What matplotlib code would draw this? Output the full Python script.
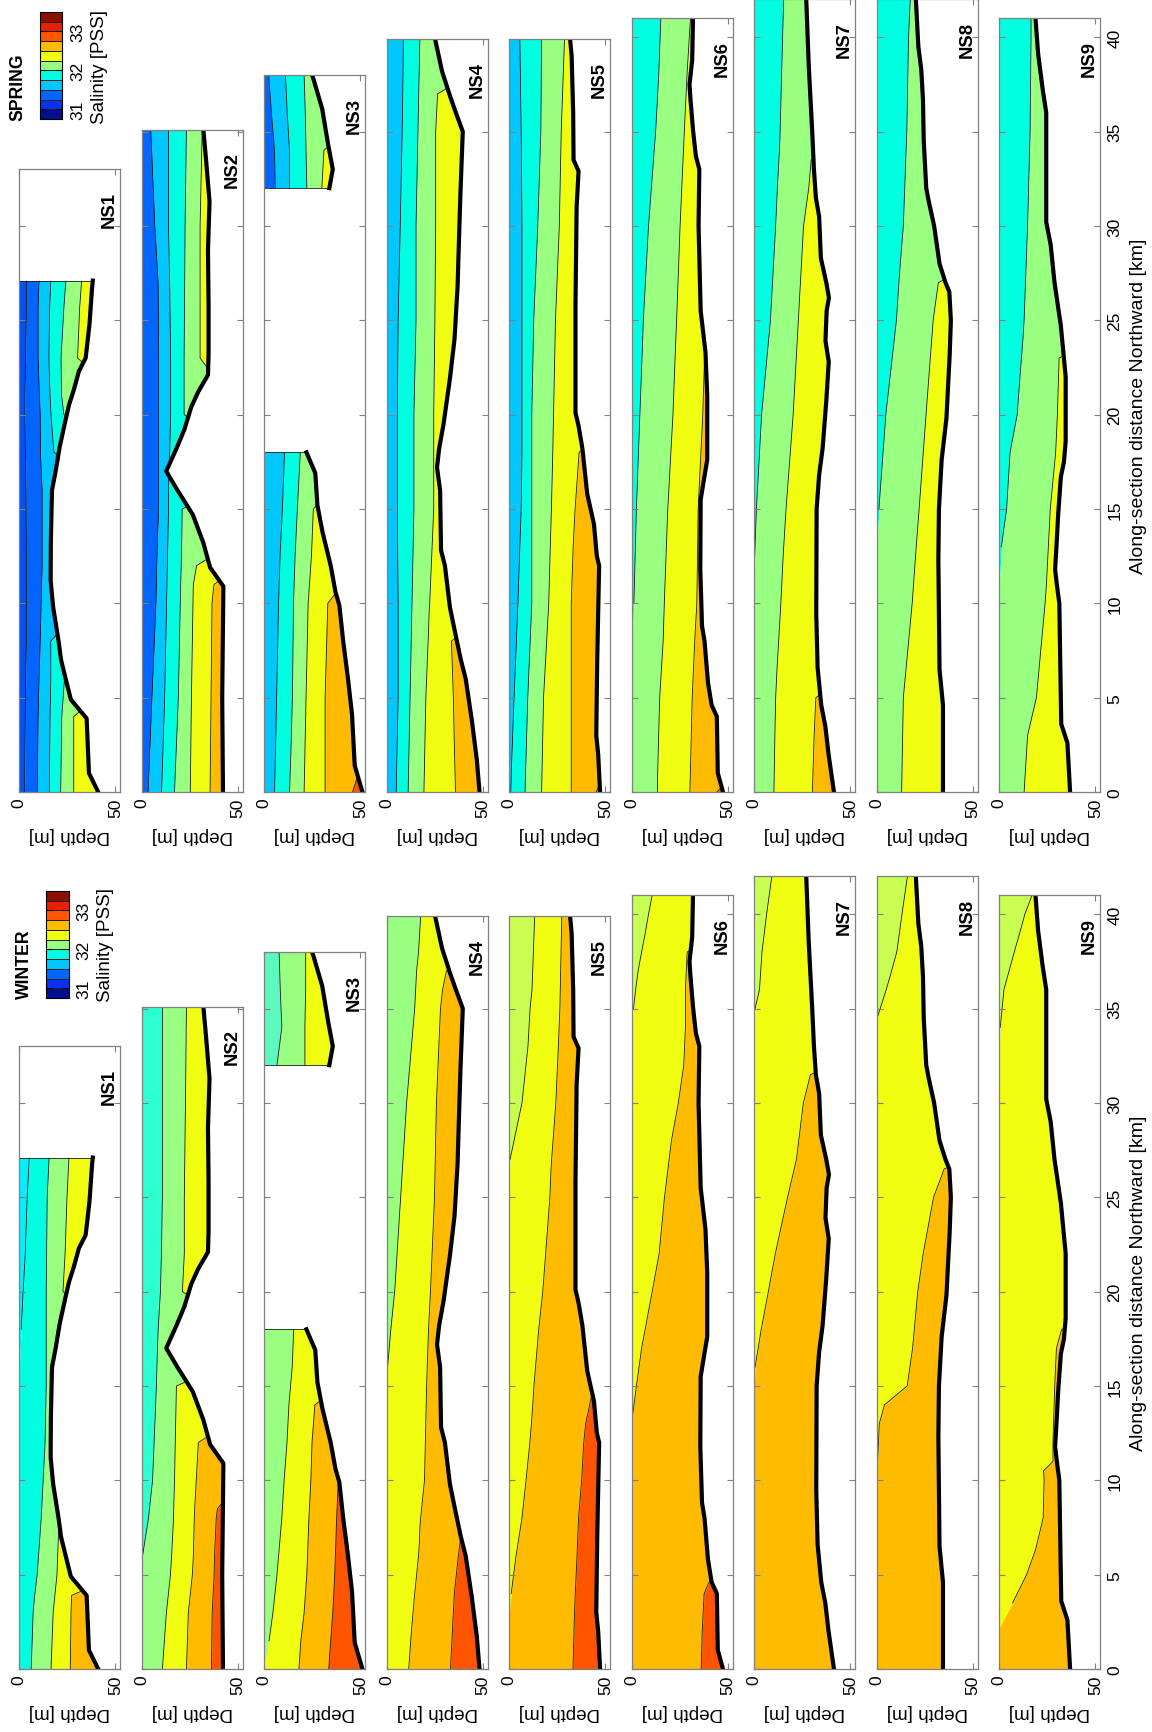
import numpy as np
import matplotlib
matplotlib.use('Agg')
import matplotlib.pyplot as plt
from matplotlib.colors import ListedColormap
from matplotlib.path import Path
from matplotlib.patches import PathPatch

plt.rcParams['font.family'] = ['Liberation Sans', 'DejaVu Sans']

# salinity classes of the colour bar (PSS)
sal_levels = [30.75, 31.0, 31.25, 31.5, 31.75, 32.0, 32.25, 32.5, 32.75, 33.0, 33.25, 33.5]
sal_ticks = [31, 32, 33]

sections = ['NS1', 'NS2', 'NS3', 'NS4', 'NS5', 'NS6', 'NS7', 'NS8', 'NS9']
# distance shown on each section axis (km)
section_top = [33, 35.1, 38, 39.9, 39.9, 41, 42, 42, 41]

# bottom depth (m) along each section
ns1_bot_dist = [0, 1, 3.9, 4.9, 6, 7, 8, 9.8, 11.2, 13.3, 16, 17, 18.3, 19.6, 20.5, 21.3, 22.3, 23, 24.8, 26.7, 27.1]
ns1_bot_depth = [41, 36.2, 35, 26.8, 24.1, 21.7, 20.4, 17.6, 16.3, 16.4, 17, 18.9, 21, 23.8, 25.8, 28.3, 31, 34.5, 36.5, 37.8, 38.2]
ns2_bot_dist = [0, 5, 10.9, 11.9, 13.2, 14.7, 16, 17, 18.2, 19.2, 20.4, 21.2, 22.1, 23.2, 25.9, 28.7, 31.3, 33.5, 35.1]
ns2_bot_depth = [42.2, 41.8, 42.4, 35.5, 32, 26.5, 18.5, 12.7, 18, 22.1, 25.7, 29.3, 34.4, 34.7, 34.7, 34.4, 35.2, 33.4, 32]
ns3_bot_dist = [0, 1.4, 4.1, 6, 8, 9.9, 10.6, 12, 13.8, 15.2, 16.9, 18, np.nan, 32, 33, 34.3, 36.2, 37.8, 38]
ns3_bot_depth = [51, 47, 45.6, 43.5, 41, 39, 37, 34.5, 30.2, 27.6, 26.5, 21.9, np.nan, 33.8, 35.6, 33.2, 30.1, 25.5, 24.8]
ns4_bot_dist = [0, 1.7, 3.8, 6, 7, 8.5, 9.8, 12, 12.8, 16, 17.2, 18.2, 19.5, 20.6, 21.9, 24, 26.8, 29.2, 31.8, 35, 36, 36.9, 38.2, 39.9]
ns4_bot_depth = [48.2, 46.8, 44.2, 41, 38.5, 35.4, 32.8, 30.2, 28.2, 27.7, 26.1, 27.2, 29.5, 31, 32.8, 35.2, 36.8, 37.5, 38.3, 39.5, 35.9, 32.8, 28.7, 25.1]
ns5_bot_dist = [0, 2, 3, 7, 12, 12.5, 14.2, 15.8, 18.2, 19.4, 20.1, 25.8, 31, 32.9, 33.5, 36, 39, 39.9]
ns5_bot_depth = [47.2, 46.2, 45.2, 45.7, 46.7, 45.5, 44, 40.5, 38, 36, 34.4, 34.4, 35, 36, 33.4, 33.2, 32.4, 31.6]
ns6_bot_dist = [0, 1, 4, 4.6, 5.8, 8, 8.8, 11.8, 15.5, 16.5, 17.6, 21, 23.3, 25.5, 30, 33, 33.7, 35, 36.7, 37.5, 38.8, 41]
ns6_bot_depth = [47.4, 44.7, 44.2, 41.5, 39.6, 37.8, 36.5, 35.6, 35.8, 37.4, 39.2, 39.2, 38.3, 35.8, 34.7, 35.1, 33.3, 31.9, 30.5, 30, 31.4, 31.8]
ns7_bot_dist = [0, 2, 3.5, 4.6, 6.6, 9.5, 12.3, 15, 16.8, 18.2, 20.7, 22.8, 23.9, 25.5, 26.2, 27, 28.3, 30.5, 31.5, 33, 35, 38.5, 42]
ns7_bot_depth = [41.4, 38.6, 36.9, 34.8, 32.9, 32.2, 32.3, 32.4, 33.7, 35.5, 37.4, 38.7, 37, 37.6, 38.8, 37.4, 34.6, 33.7, 32, 31, 30.1, 28.3, 27]
ns8_bot_dist = [0, 4.6, 6.5, 12.3, 15, 17.6, 19.8, 23.2, 25, 26.5, 27, 28, 30, 31.3, 32, 34.5, 36.7, 38.3, 39.5, 42]
ns8_bot_depth = [34.4, 34.4, 32.6, 32, 32.3, 33.7, 36.2, 37.9, 38.5, 37.7, 35.7, 32.6, 29.8, 27, 25.7, 24.4, 24, 23.1, 21.6, 20.3]
ns9_bot_dist = [0, 2.6, 3.6, 10, 11, 11.8, 12.8, 14.7, 16.7, 17.5, 18.6, 22, 24.7, 27, 29, 30.2, 36, 37.2, 39.1, 41]
ns9_bot_depth = [36.8, 35.4, 32.2, 31.2, 29.9, 29, 29.6, 30.6, 32, 33.6, 34.5, 34.5, 32, 28.7, 26.7, 24.4, 24.4, 22.6, 20.2, 18.8]

# SPRING: depth (m) of each isohaline along the section, shallow to deep
sp1_dist = [0, 4, 6, 8, 12, 16, 18, 20, 21, 23, 25.7, 27.1]
sp1_iso = [[2.7, 3.1, 3.3, 3.7, 3.7, 3.5, 3.2, 2.9, 2.9, 3.3, 3.7, 3.7],
           [9.4, 9.8, 10.3, 10.9, 11.9, 11.9, 11, 10.9, 10.5, 9.8, 9.8, 10.3],
           [15.6, 16, 16.4, 16.4, 52, 52, 18, 16.5, 16, 15.4, 15.8, 16.4],
           [21.5, 22.1, 23.5, 52, 52, 52, 52, 23.2, 22, 21.7, 23.2, 24.2],
           [28.3, 28.3, 52, 52, 52, 52, 52, 52, 52, 30.3, 31.4, 32.4]]
sp2_dist = [0, 5, 10, 11, 12, 13.5, 15, 16.5, 18, 20, 23, 27, 30, 35.1]
sp2_iso = [[3.3, 5.3, 7.4, 7.6, 7.8, 8.2, 8.8, 8.8, 8.8, 8.8, 8.8, 8.5, 6.8, 4.7],
           [10.3, 11.9, 12.9, 13.1, 13.3, 13.6, 13.9, 14, 14.5, 15, 15, 14.5, 13.9, 13.9],
           [17, 19, 20, 20.2, 20.5, 20.8, 21, 52, 52, 22, 22, 22.3, 22.5, 23.2],
           [25.2, 25.8, 26.6, 26.8, 28.5, 52, 52, 52, 52, 52, 30.3, 30.3, 30.3, 31.4],
           [35.5, 36, 36.5, 37.5, 52, 52, 52, 52, 52, 52, 52, 52, 52, 52]]
sp3_dist = [0, 2, 5, 10, 12.5, 15, 18, np.nan, 32, 34, 36, 38]
sp3_iso = [[0, 0, 0, 0, 0, 0, 0, np.nan, 5.7, 5.3, 3.7, 2.3],
           [5.3, 5.8, 6.4, 7.4, 8.2, 9.4, 10.5, np.nan, 13.1, 13.1, 11.9, 11],
           [13.1, 13.8, 14.6, 15.2, 16, 17.2, 18.7, np.nan, 22.1, 21.7, 21.3, 20.7],
           [20.7, 21.1, 21.7, 22.8, 24.5, 25.5, 52, np.nan, 29.9, 31, 52, 52],
           [31.6, 31.6, 31.6, 33, 52, 52, 52, np.nan, 52, 52, 52, 52],
           [45.9, 52, 52, 52, 52, 52, 52, np.nan, 52, 52, 52, 52]]
sp4_dist = [0, 3, 5, 8, 9.5, 10, 15, 20, 25, 30, 35, 37, 38.5, 39.9]
sp4_iso = [[4.9, 5.5, 5.9, 5.9, 5.9, 5.9, 5.5, 5.5, 5.9, 7.0, 8.0, 8.3, 8.5, 8.6],
           [11.1, 11.7, 12.1, 12.7, 13, 13.1, 14.1, 14.1, 15.2, 15.2, 16.2, 16.6, 16.9, 17.2],
           [19.3, 19.9, 20.3, 21.5, 22, 22.3, 24.4, 24.4, 25, 25.4, 25.4, 26.4, 52, 52],
           [35.7, 35, 34.6, 33.6, 52, 52, 52, 52, 52, 52, 52, 52, 52, 52]]
sp5_dist = [0, 1.5, 5, 10, 13, 15, 18, 19.5, 20, 25, 30, 35, 39.9]
sp5_iso = [[0.8, 1.2, 2.5, 4.5, 5.5, 6.2, 6.6, 6.6, 6.6, 6.6, 6.6, 6.2, 5.5],
           [8.2, 8.6, 9.6, 11.7, 11.7, 11.7, 11.7, 11.7, 11.7, 12.7, 14.8, 16.4, 16.8],
           [16.8, 17.1, 17.8, 20.5, 21.3, 21.9, 22.6, 22.9, 23, 24, 26, 27, 28.7],
           [32.2, 32.2, 32.2, 32.2, 33.2, 34.2, 36.3, 52, 52, 52, 52, 52, 52],
           [45.1, 52, 52, 52, 52, 52, 52, 52, 52, 52, 52, 52, 52]]
sp6_dist = [0, 0.8, 5, 8, 10, 15, 20, 23, 23.5, 25, 30, 35, 38, 41]
sp6_iso = [[0, 0, 0, 0, 1.1, 2.4, 4.2, 5.3, 5.5, 6, 8.7, 12.4, 14, 15.1],
           [13.3, 13.4, 14.5, 16.3, 16.9, 18.7, 21.4, 22.5, 22.7, 23.3, 25.1, 27.3, 28.7, 30.5],
           [30.2, 30.4, 31.4, 32.7, 33.8, 34.5, 36.9, 37.8, 52, 52, 52, 52, 52, 52],
           [44.2, 52, 52, 52, 52, 52, 52, 52, 52, 52, 52, 52, 52, 52]]
sp7_dist = [0, 3, 5, 6.5, 10, 12.5, 15, 20, 25, 30, 32, 33.5, 34.5, 40, 42]
sp7_iso = [[0, 0, 0, 0, 0, 0.2, 1.1, 3.8, 8.4, 11.1, 12, 12.8, 13.3, 14.7, 15.3],
           [10.2, 10.7, 11.1, 11.8, 13.8, 15, 16.5, 20.2, 22.9, 25.6, 28.3, 29.6, 52, 52, 52],
           [30.2, 31.1, 32, 52, 52, 52, 52, 52, 52, 52, 52, 52, 52, 52, 52]]
sp8_dist = [0, 5, 10, 13, 15, 20, 25, 27, 28, 30, 35, 40, 42]
sp8_iso = [[0, 0, 0, 0, 1.1, 4.7, 10.2, 11.5, 12.2, 13.8, 15.6, 16.5, 17.4],
           [12.9, 13.8, 18.4, 20.5, 22, 25.6, 29.3, 32, 52, 52, 52, 52, 52]]
sp9_dist = [0, 3, 5, 7, 10, 11, 13, 15, 18, 20, 23, 24, 25, 30, 35, 40, 41]
sp9_iso = [[0, 0, 0, 0, 0, 0, 1.1, 3.8, 5.6, 9.3, 11.5, 12.3, 12.9, 14.7, 16, 16.5, 16.5],
           [12.9, 14.7, 19.3, 21.1, 23.8, 24.5, 25.5, 26.5, 29.3, 30.2, 31.1, 52, 52, 52, 52, 52, 52]]

# WINTER
wi1_dist = [0, 3, 3.9, 5, 8, 10, 12, 15, 16, 18, 20, 22, 25, 27.1]
wi1_iso = [[0, 0, 0, 0, 0, 0, 0, 0, 0, 1, 2, 3.1, 4.1, 5.2],
           [6.2, 7.2, 8, 9.3, 11.4, 12.4, 13.4, 14, 14, 14, 14, 14.2, 14.5, 15.5],
           [16.5, 17.6, 18.5, 19.6, 20.7, 52, 52, 52, 52, 52, 22.7, 23.8, 24.8, 25.8],
           [26.5, 26.9, 27.2, 52, 52, 52, 52, 52, 52, 52, 52, 52, 52, 52]]
wi2_dist = [0, 3, 5, 6, 8, 8.5, 10, 12, 13.5, 15, 16.5, 18, 20, 22, 25, 30, 35.1]
wi2_iso = [[0, 0, 0, 0.4, 3.5, 4, 5.6, 6.4, 7, 7.6, 8, 8.5, 9.7, 10.2, 10.7, 10.7, 10.7],
           [10.7, 12.8, 14.9, 15.5, 16.5, 16.6, 17, 17.4, 17.7, 18, 52, 52, 21.1, 22.1, 22.1, 22.7, 23.2],
           [23.2, 24.2, 26.3, 26.8, 27.3, 27.5, 28.3, 29.4, 52, 52, 52, 52, 52, 52, 52, 52, 52],
           [36.2, 36.6, 37.6, 37.8, 38.7, 39.3, 52, 52, 52, 52, 52, 52, 52, 52, 52, 52, 52]]
wi3_dist = [0, 1.5, 3, 5, 8, 10, 12, 14, 16, 18, np.nan, 32, 34, 36, 38]
wi3_iso = [[0, 0, 0, 0, 0, 0, 0, 0, 0, 0, np.nan, 6.6, 9.1, 8.3, 7.7],
           [0, 2.5, 4.5, 6.6, 9.1, 10.3, 11.8, 12.8, 14.5, 15.3, np.nan, 21.1, 21.1, 21.5, 21.5],
           [18, 19, 20.7, 22.1, 23.2, 24.2, 24.8, 26.3, 52, 52, np.nan, 52, 52, 52, 52],
           [33.5, 34.5, 35.6, 36.6, 37.6, 38.5, 52, 52, 52, 52, np.nan, 52, 52, 52, 52]]
wi4_dist = [0, 2, 4, 6, 6.8, 7.5, 8, 10, 15, 16, 18, 20, 25, 30, 35, 36, 37, 38, 39.9]
wi4_iso = [[0, 0, 0, 0, 0, 0, 0, 0, 0, 0.4, 2.1, 4.1, 7.2, 10.3, 14.5, 15, 15.5, 16.5, 17.6],
           [11.4, 12.8, 14.5, 16.5, 17, 17.2, 17.6, 19.6, 20.7, 21, 21.7, 22.7, 24.8, 25.8, 27.9, 29, 31, 52, 52],
           [33.1, 34.1, 35.1, 37.2, 38.2, 52, 52, 52, 52, 52, 52, 52, 52, 52, 52, 52, 52, 52, 52]]
wi5_dist = [0, 3, 4, 6, 8, 10, 12, 13, 14, 14.5, 15, 18, 20, 25, 26.5, 27, 30, 33, 35, 36, 39.9]
wi5_iso = [[0, 0, 0, 0, 0, 0, 0, 0, 0, 0, 0, 0, 0, 0, 0, 0.4, 6.6, 9.7, 10.8, 11.8, 13.2],
           [0, 0, 1, 3.5, 6.6, 8.7, 10.7, 11.5, 12.2, 12.5, 12.8, 15.3, 17.4, 21.1, 21.7, 22, 24.2, 25.5, 26.3, 26.5, 27.3],
           [33.1, 33.9, 34.3, 35.2, 36, 37.6, 38.7, 39.7, 41.8, 42.8, 52, 52, 52, 52, 52, 52, 52, 52, 52, 52, 52]]
wi6_dist = [0, 2, 4, 4.7, 5, 13, 13.5, 15, 17, 20, 22, 25, 28, 30, 32, 34, 35, 36, 37, 38, 39, 40, 41]
wi6_iso = [[0, 0, 0, 0, 0, 0, 0, 0, 0, 0, 0, 0, 0, 0, 0, 0, 0.9, 2, 3.3, 5.1, 7, 8.7, 10.6],
           [0, 0, 0, 0, 0, 0, 0.5, 2.4, 5.1, 10.6, 14.2, 17, 20.6, 24.2, 27, 27.9, 27.9, 27.9, 28.3, 28.8, 52, 52, 52],
           [36.1, 36.6, 37.6, 40.6, 52, 52, 52, 52, 52, 52, 52, 52, 52, 52, 52, 52, 52, 52, 52, 52, 52, 52, 52]]
wi7_dist = [0, 15, 16, 18, 20, 22, 25, 27, 30, 31.5, 32.5, 34, 35, 36, 38, 40, 42]
wi7_iso = [[0, 0, 0, 0, 0, 0, 0, 0, 0, 0, 0, 0, 0.4, 2.7, 4, 6.4, 9.1],
           [0, 0, 0.4, 3.6, 7.3, 10.9, 17.3, 21.9, 25.5, 29.2, 52, 52, 52, 52, 52, 52, 52]]
wi8_dist = [0, 10.5, 11, 13, 14, 15, 17, 20, 22, 24, 25, 26, 26.5, 27.2, 30, 34, 34.5, 36, 37, 38, 40, 42]
wi8_iso = [[0, 0, 0, 0, 0, 0, 0, 0, 0, 0, 0, 0, 0, 0, 0, 0, 0.2, 4.9, 7.7, 10.4, 13.1, 15.9],
           [0, 0, 0.4, 1.3, 4, 15.8, 18.6, 21.3, 24.1, 27.7, 29.5, 33.2, 35, 52, 52, 52, 52, 52, 52, 52, 52, 52]]
wi9_dist = [0, 2.2, 3.5, 5, 6.3, 8, 10, 10.5, 11, 12, 15, 17, 18, 18.5, 33, 34, 36, 37, 38, 39, 40, 41]
wi9_iso = [[0, 0, 0, 0, 0, 0, 0, 0, 0, 0, 0, 0, 0, 0, 0, 0.5, 2.4, 5.1, 7.8, 10.6, 13.3, 17],
           [0, 0, 6.9, 14.2, 18.8, 22.8, 23.3, 23, 27.9, 27.9, 28.8, 29.7, 32.4, 52, 52, 52, 52, 52, 52, 52, 52, 52]]

# colours
NAVY, BLUE1, BLUE2, SKY, CYAN = '#00108f', '#0a30f0', '#0066ff', '#00c8ff', '#00ffe0'
GREEN, YELLOW, ORANGE, ORED, RED, DRED = '#99ff80', '#f0fc10', '#ffbb00', '#ff5500', '#e82000', '#8c1000'
BLUE_A, SKY_W, AQUA, AQUA2, YGREEN = '#0050f5', '#00f0ff', '#2cffd0', '#5cf8c0', '#c8ff50'
CBAR = [NAVY, BLUE1, BLUE2, SKY, CYAN, GREEN, YELLOW, ORANGE, ORED, RED, DRED]

spring_colors = [[BLUE_A, BLUE2, SKY, CYAN, GREEN, YELLOW],
                 [BLUE2, SKY, CYAN, GREEN, YELLOW, ORANGE],
                 [BLUE2, SKY, CYAN, GREEN, YELLOW, ORANGE, ORED],
                 [SKY, CYAN, GREEN, YELLOW, ORANGE],
                 [SKY, CYAN, GREEN, YELLOW, ORANGE, ORED],
                 [CYAN, GREEN, YELLOW, ORANGE, ORED],
                 [CYAN, GREEN, YELLOW, ORANGE],
                 [CYAN, GREEN, YELLOW],
                 [CYAN, GREEN, YELLOW]]
winter_colors = [[SKY_W, CYAN, GREEN, YELLOW, ORANGE],
                 [AQUA, GREEN, YELLOW, ORANGE, ORED],
                 [AQUA2, GREEN, YELLOW, ORANGE, ORED],
                 [GREEN, YELLOW, ORANGE, ORED],
                 [YGREEN, YELLOW, ORANGE, ORED],
                 [YGREEN, YELLOW, ORANGE, ORED],
                 [YGREEN, YELLOW, ORANGE],
                 [YGREEN, YELLOW, ORANGE],
                 [YGREEN, YELLOW, ORANGE]]

bottoms = [(ns1_bot_dist, ns1_bot_depth), (ns2_bot_dist, ns2_bot_depth), (ns3_bot_dist, ns3_bot_depth),
           (ns4_bot_dist, ns4_bot_depth), (ns5_bot_dist, ns5_bot_depth), (ns6_bot_dist, ns6_bot_depth),
           (ns7_bot_dist, ns7_bot_depth), (ns8_bot_dist, ns8_bot_depth), (ns9_bot_dist, ns9_bot_depth)]
spring = [(sp1_dist, sp1_iso), (sp2_dist, sp2_iso), (sp3_dist, sp3_iso), (sp4_dist, sp4_iso), (sp5_dist, sp5_iso),
          (sp6_dist, sp6_iso), (sp7_dist, sp7_iso), (sp8_dist, sp8_iso), (sp9_dist, sp9_iso)]
winter = [(wi1_dist, wi1_iso), (wi2_dist, wi2_iso), (wi3_dist, wi3_iso), (wi4_dist, wi4_iso), (wi5_dist, wi5_iso),
          (wi6_dist, wi6_iso), (wi7_dist, wi7_iso), (wi8_dist, wi8_iso), (wi9_dist, wi9_iso)]

W, H = 1152, 1733
DMAX = 52.5
KM_PX = 18.87
SPINE = '#808080'

fig = plt.figure(figsize=(W / 100, H / 100), dpi=100)


def px_axes(left, top, width, height):
    return fig.add_axes([left / W, 1 - (top + height) / H, width / W, height / H])


def water_patch(ax, bd, bz):
    # closed outline of the water column: surface -> bottom line -> surface
    parts = []
    for seg in np.split(np.arange(len(bd)), np.flatnonzero(np.isnan(bd))):
        seg = seg[~np.isnan(bd[seg])]
        verts = [(0, bd[seg[0]])] + list(zip(bz[seg], bd[seg])) + [(0, bd[seg[-1]]), (0, bd[seg[0]])]
        codes = [Path.MOVETO] + [Path.LINETO] * (len(verts) - 2) + [Path.CLOSEPOLY]
        parts.append(Path(verts, codes))
    patch = PathPatch(Path.make_compound_path(*parts), transform=ax.transData,
                      facecolor='none', edgecolor='none')
    ax.add_patch(patch)
    return patch


def draw_panel(ax, dist, iso, colors, bot_dist, bot_depth, top, name, last):
    dist = np.array(dist, float)
    bd = np.array(bot_dist, float)
    bz = np.array(bot_depth, float)
    clip = water_patch(ax, bd, bz)
    bounds = [np.zeros_like(dist)] + [np.array(r, float) for r in iso] + [np.full_like(dist, DMAX)]
    for k, c in enumerate(colors):
        coll = ax.fill_betweenx(dist, bounds[k], bounds[k + 1], color=c, lw=0, zorder=1)
        coll.set_clip_path(clip)
    for r in bounds[1:-1]:
        ln, = ax.plot(np.where(r <= 0.05, np.nan, r), dist, color='#1a1a1a', lw=0.6, zorder=1.5)
        ln.set_clip_path(clip)
    # closing lines where the sampled section stops inside the axis
    for seg in np.split(np.arange(len(bd)), np.flatnonzero(np.isnan(bd))):
        seg = seg[~np.isnan(bd[seg])]
        for j in (seg[0], seg[-1]):
            if 0 < bd[j] < top - 0.3:
                ax.plot([0, bz[j]], [bd[j], bd[j]], color='#1a1a1a', lw=0.6, zorder=2.2)
    ax.plot(bz, bd, color='k', lw=3, zorder=3)

    ax.set_xlim(0, DMAX)
    ax.set_ylim(0, top)
    ax.set_xticks([0, 50])
    ax.set_xticklabels(['0', '50'], rotation=90)
    yt = list(range(0, int(top) + 1, 5))
    ax.set_yticks(yt)
    ax.set_yticklabels([str(v) for v in yt], rotation=90, va='center')
    ax.tick_params(direction='in', length=4, color=SPINE, top=True, right=True, labelsize=12.5)
    ax.tick_params(axis='x', pad=4)
    ax.tick_params(axis='y', left=True, right=True, labelleft=False, labelright=last, pad=5)
    for sp in ax.spines.values():
        sp.set_color(SPINE)
        sp.set_linewidth(0.9)
        sp.set_zorder(4)
    ax.text(46.8, top - 2.1, name, rotation=90, ha='center', va='center',
            fontsize=13.3, fontweight='bold', zorder=5)
    ax.annotate('Depth [m]', xy=(0.5, 0), xycoords='axes fraction', xytext=(0, -43),
                textcoords='offset pixels', rotation=180, ha='center', va='center', fontsize=13.5)
    if last:
        ax.annotate('Along-section distance Northward [km]', xy=(1, 0.5), xycoords='axes fraction',
                    xytext=(38, 0), textcoords='offset pixels', rotation=90,
                    ha='center', va='center', fontsize=14)


def colour_bar(left, top):
    cax = px_axes(left, top, 22.5, 107)
    cax.pcolormesh([0, 1], sal_levels, np.arange(len(sal_levels) - 1)[:, None],
                   cmap=ListedColormap(CBAR), edgecolors='#202020', linewidth=0.4)
    cax.set_xlim(0, 1)
    cax.set_ylim(sal_levels[0], sal_levels[-1])
    cax.set_xticks([])
    cax.set_yticks(sal_ticks)
    cax.set_yticklabels([str(t) for t in sal_ticks], rotation=90, va='center')
    cax.tick_params(axis='y', direction='in', length=4, left=True, right=True,
                    labelleft=False, labelright=True, pad=6, labelsize=12.5)
    cax.annotate('Salinity [PSS]', xy=(1, 0.5), xycoords='axes fraction', xytext=(37, 0),
                 textcoords='offset pixels', rotation=90, ha='center', va='center', fontsize=13.5)


for panels, colours, y0 in [(spring, spring_colors, 793), (winter, winter_colors, 1670)]:
    for i in range(9):
        top = section_top[i]
        h = KM_PX * top
        ax = px_axes(19.3 + 122.5 * i, y0 - h, 101, h)
        dist, iso = panels[i]
        draw_panel(ax, dist, iso, colours[i], bottoms[i][0], bottoms[i][1], top, sections[i], i == 8)

colour_bar(39.5, 13)
colour_bar(46, 892)
fig.text(17.8 / W, 1 - 87 / H, 'SPRING', rotation=90, ha='center', va='center',
         fontsize=12.7, fontweight='bold')
fig.text(24.5 / W, 1 - 964 / H, 'WINTER', rotation=90, ha='center', va='center',
         fontsize=12.7, fontweight='bold')

fig.savefig('out.png', dpi=100)
